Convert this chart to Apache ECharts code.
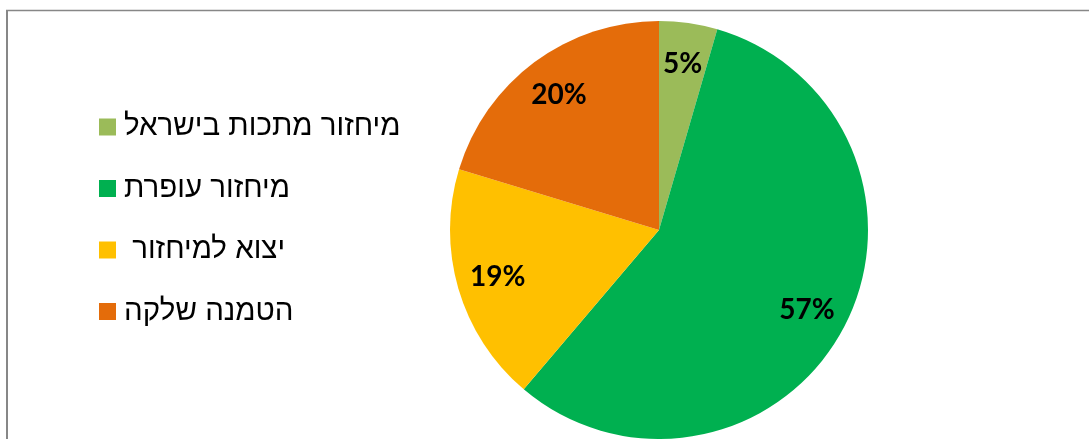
<!DOCTYPE html>
<html>
<head>
<meta charset="utf-8">
<script src="https://cdn.jsdelivr.net/npm/echarts@6/dist/echarts.min.js"></script>
<style>
html,body{margin:0;padding:0;background:#fff;}
#chart{width:1089px;height:439px;}
</style>
</head>
<body>
<div id="chart" dir="rtl"></div>
<script>
const categories = ['מיחזור מתכות בישראל', 'מיחזור עופרת', 'יצוא למיחזור ', 'הטמנה שלקה'];
const values = [4.5, 56.7, 18.5, 20.3];
const colors = ['#9BBB59', '#00B050', '#FFC000', '#E46C0A'];

const data = categories.map((n, i) => ({ name: n, value: values[i], itemStyle: { color: colors[i] } }));
const R = 209;

const chart = echarts.init(document.getElementById('chart'), null, { renderer: 'canvas' });
chart.setOption({
  animation: false,
  backgroundColor: '#fff',
  graphic: [
    { type: 'line', shape: { x1: 6, y1: 10.5, x2: 1089, y2: 10.5 }, style: { stroke: '#878787', lineWidth: 1.5 }, z: 100 },
    { type: 'line', shape: { x1: 7, y1: 10, x2: 7, y2: 439 }, style: { stroke: '#878787', lineWidth: 2 }, z: 100 }
  ],
  legend: {
    orient: 'vertical',
    left: 99,
    top: 112,
    padding: 0,
    itemWidth: 17,
    itemHeight: 17,
    itemGap: 31.5,
    icon: 'rect',
    selectedMode: false,
    textStyle: { fontFamily: '"Liberation Sans", Arial, sans-serif', fontSize: 29.5, color: '#000', lineHeight: 30, padding: [0,0,0,3] },
    data: categories
  },
  series: [
    {
      type: 'pie',
      center: [659, 230],
      radius: [0, R],
      startAngle: 90,
      clockwise: true,
      label: { show: false },
      labelLine: { show: false },
      silent: true,
      data: data
    },
    {
      type: 'pie',
      center: [659, 230],
      radius: [R * 0.58, R],
      startAngle: 90,
      clockwise: true,
      silent: true,
      itemStyle: { color: 'rgba(0,0,0,0)' },
      label: {
        show: true,
        position: 'inside',
        formatter: p => Math.round(p.value) + '%',
        fontFamily: 'Lato, "Open Sans", sans-serif',
        fontWeight: 'bold',
        fontSize: 28,
        color: '#000'
      },
      labelLine: { show: false },
      data: categories.map((n, i) => ({ name: n, value: values[i], itemStyle: { color: 'rgba(0,0,0,0)' } }))
    }
  ]
});
</script>
</body>
</html>
